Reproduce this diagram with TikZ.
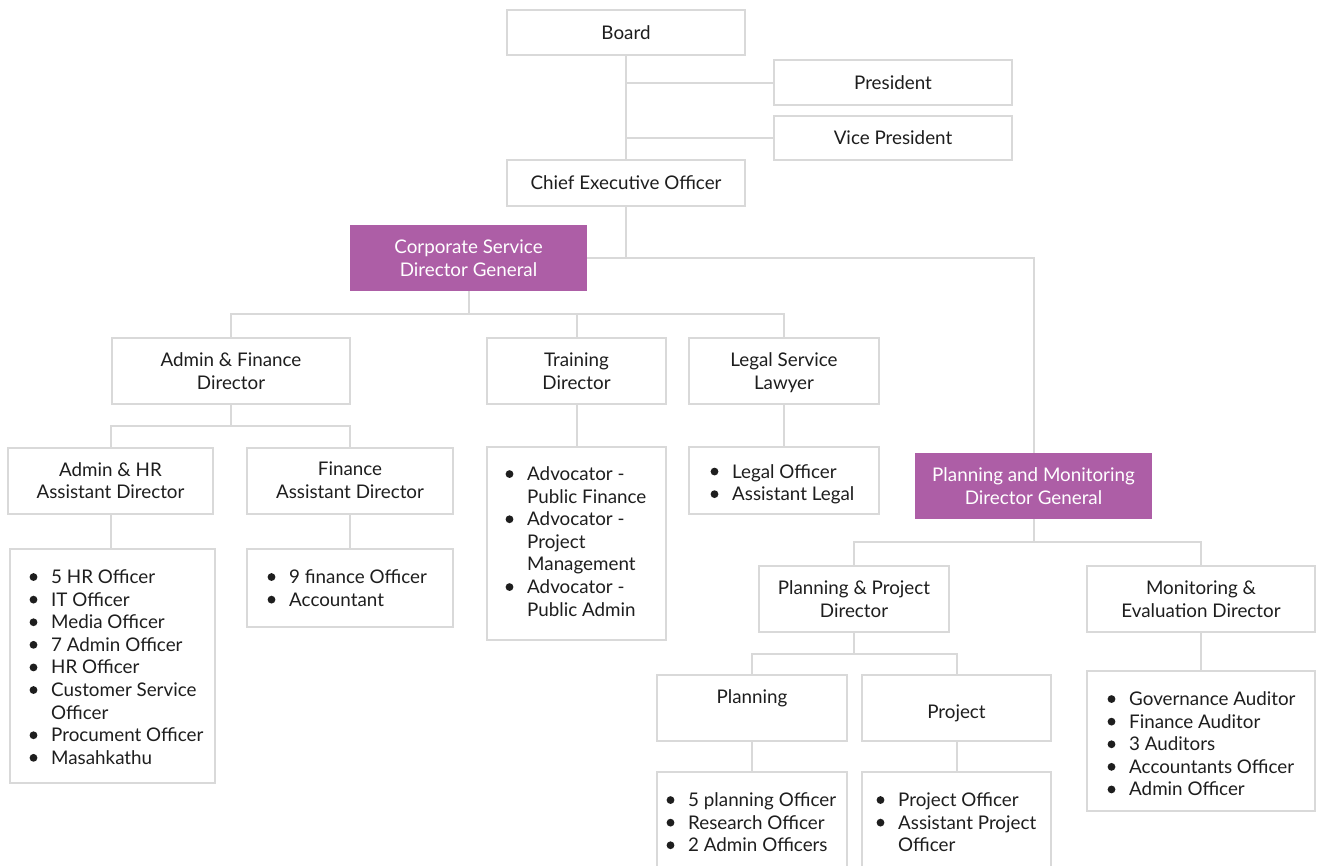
\documentclass[tikz,border=0pt]{standalone}
\usepackage{fontspec}
\setmainfont{Lato}
\usetikzlibrary{calc}
\definecolor{edgegray}{HTML}{D9D9D9}
\definecolor{dgpurple}{HTML}{AD5EA6}
\definecolor{inkc}{HTML}{1E1E1E}
\newcommand{\bitem}{\llap{\raisebox{2.6pt}{\tikz\fill[inkc] (0,0) circle (3.9pt);}\hspace{13.8pt}}}
\tikzset{
  x=1pt, y=-1pt,
  every node/.style={font=\fontsize{18.8}{22.6}\selectfont, text=inkc},
  box/.style={draw=edgegray, line width=2pt, fill=white, inner sep=0pt, align=center},
  dgbox/.style={fill=dgpurple, draw=none, inner sep=0pt, align=center, text=white},
  listtext/.style={anchor=north west, inner sep=0pt, align=left},
  conn/.style={draw=edgegray, line width=2pt},
}
\begin{document}
\begin{tikzpicture}
\useasboundingbox (0,0) rectangle (1317,865);
\clip (0,0) rectangle (1317,865);
\fill[white] (0,0) rectangle (1317,865);

% top
\node[box, minimum width=238, minimum height=45] (board) at (626,32.5) {Board};
\node[box, minimum width=238, minimum height=45] (pres) at (893,82.5) {President};
\node[box, minimum width=238, minimum height=44] (vp) at (893,138) {Vice President};
\node[box, minimum width=238, minimum height=46] (ceo) at (626,183) {Chief Executive Officer};

% directors general
\node[dgbox, minimum width=237, minimum height=66] (csdg) at (468.5,258) {Corporate Service\\Director General};
\node[dgbox, minimum width=237, minimum height=66] (pmdg) at (1033.5,486) {Planning and Monitoring\\Director General};

% corporate branch
\node[box, minimum width=238, minimum height=66] (afd) at (231,371) {Admin \& Finance\\Director};
\node[box, minimum width=179, minimum height=66] (td) at (576.5,371) {Training\\Director};
\node[box, minimum width=190, minimum height=66] (ld) at (784,371) {};
\node (ldtxt) at (784,372.5) [align=center] {Legal Service\\Lawyer};
\node[box, minimum width=205, minimum height=66] (ahr) at (110.5,480.5) {Admin \& HR\\Assistant Director};
\node[box, minimum width=206, minimum height=66] (fad) at (350,480.5) {Finance\\Assistant Director};

\node[box, minimum width=205, minimum height=234] (ahrl) at (112.5,666) {};
\node[box, minimum width=206, minimum height=78] (fadl) at (350,588) {};
\node[box, minimum width=179, minimum height=193] (tdl) at (576.5,543.5) {};
\node[box, minimum width=190, minimum height=67] (ldl) at (784,480.5) {};

\node[listtext] (ahrt) at (51,569.5) {\bitem 5 HR Officer\\\bitem IT Officer\\\bitem Media Officer\\\bitem 7 Admin Officer\\\bitem HR Officer\\\bitem Customer Service\\Officer\\\bitem Procument Officer\\\bitem Masahkathu};
\node[listtext] (fadt) at (289,569.5) {\bitem 9 finance Officer\\\bitem Accountant};
\node[listtext] (tdt) at (527,466.5) {\bitem Advocator -\\Public Finance\\\bitem Advocator -\\Project\\Management\\\bitem Advocator -\\Public Admin};
\node[listtext] (ldt) at (732,464) {\bitem Legal Officer\\\bitem Assistant Legal};

% planning branch
\node[box, minimum width=190, minimum height=66] (ppd) at (854,599) {Planning \& Project\\Director};
\node[box, minimum width=228, minimum height=66] (med) at (1201,599) {Monitoring \&\\Evaluation Director};
\node[box, minimum width=228, minimum height=140] (medl) at (1201,741) {};
\node[box, minimum width=190, minimum height=66] (plan) at (752,708) {Planning\\\phantom{X}};
\node[box, minimum width=189, minimum height=66] (proj) at (956.5,708) {};
\node (projtxt) at (956.5,713) {Project};
\node[box, minimum width=190, minimum height=128] (planl) at (752,836) {};
\node[box, minimum width=189, minimum height=128] (projl) at (956.5,836) {};

\node[listtext] (medt) at (1129,691.5) {\bitem Governance Auditor\\\bitem Finance Auditor\\\bitem 3 Auditors\\\bitem Accountants Officer\\\bitem Admin Officer};
\node[listtext] (planlt) at (688,792.5) {\bitem 5 planning Officer\\\bitem Research Officer\\\bitem 2 Admin Officers};
\node[listtext] (projlt) at (898,792.5) {\bitem Project Officer\\\bitem Assistant Project\\Officer};

% connectors
\path[conn] (board.south) -- (ceo.north);
\path[conn] (board.south |- pres.west) -- (pres.west);
\path[conn] (board.south |- vp.west) -- (vp.west);
\path[conn] (ceo.south) -- (ceo.south |- csdg.east) -- (csdg.east);
\path[conn] (ceo.south |- csdg.east) -| (pmdg.north);

\coordinate (m1) at ($(csdg.south)!0.5!(afd.north)$);
\path[conn] (csdg.south) -- (csdg.south |- m1);
\path[conn] (afd.north) |- (m1) -| (ld.north);
\path[conn] (td.north) -- (td.north |- m1);

\coordinate (m2) at ($(afd.south)!0.5!(ahr.north)$);
\path[conn] (afd.south) -- (afd.south |- m2);
\path[conn] (ahr.north) |- (m2) -| (fad.north);

\path[conn] (ahr.south) -- (ahr.south |- ahrl.north);
\path[conn] (fad.south) -- (fadl.north);
\path[conn] (td.south) -- (tdl.north);
\path[conn] (ld.south) -- (ldl.north);

\coordinate (m3) at ($(pmdg.south)!0.5!(ppd.north)$);
\path[conn] (pmdg.south) -- (pmdg.south |- m3);
\path[conn] (ppd.north) |- (m3) -| (med.north);
\path[conn] (med.south) -- (medl.north);

\coordinate (m4) at ($(ppd.south)!0.5!(plan.north)$);
\path[conn] (ppd.south) -- (ppd.south |- m4);
\path[conn] (plan.north) |- (m4) -| (proj.north);
\path[conn] (plan.south) -- (planl.north);
\path[conn] (proj.south) -- (projl.north);
\end{tikzpicture}
\end{document}
